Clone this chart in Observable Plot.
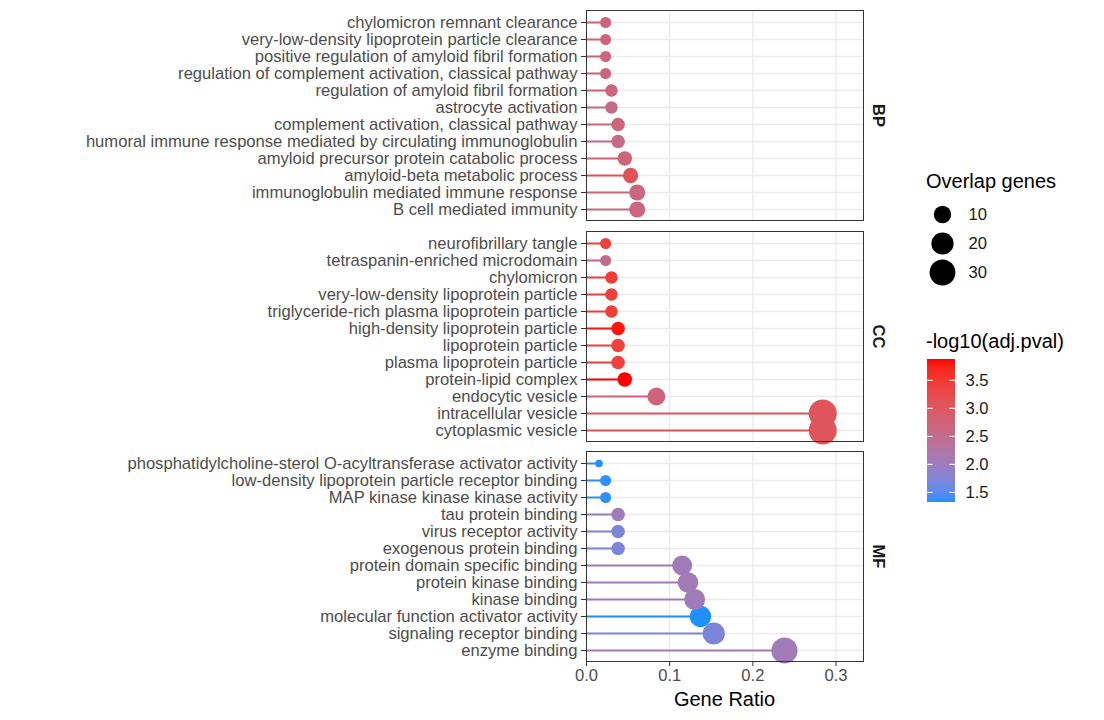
<!DOCTYPE html>
<html>
<head>
<meta charset="utf-8">
<script src="https://cdn.jsdelivr.net/npm/d3@7"></script>
<script src="https://cdn.jsdelivr.net/npm/@observablehq/plot@0.6"></script>
<style>
  body { margin: 0; background: #ffffff; }
  #chart { position: relative; width: 1104px; height: 720px; font-family: "Liberation Sans", Arial, sans-serif; overflow: hidden; }
  #chart > div { position: absolute; }
  .ttl { font-size: 20px; color: #000; white-space: nowrap; line-height: 1; }
</style>
</head>
<body>
<div id="chart"></div>
<script>
// ---------- data ----------
const bpTerms = [
  "chylomicron remnant clearance",
  "very-low-density lipoprotein particle clearance",
  "positive regulation of amyloid fibril formation",
  "regulation of complement activation, classical pathway",
  "regulation of amyloid fibril formation",
  "astrocyte activation",
  "complement activation, classical pathway",
  "humoral immune response mediated by circulating immunoglobulin",
  "amyloid precursor protein catabolic process",
  "amyloid-beta metabolic process",
  "immunoglobulin mediated immune response",
  "B cell mediated immunity"
];
const bpRatio = [0.023, 0.023, 0.023, 0.023, 0.030, 0.030, 0.038, 0.038, 0.046, 0.053, 0.061, 0.061];
const bpGenes = [3, 3, 3, 3, 4, 4, 5, 5, 6, 7, 8, 8];
const bpLogP  = [2.7, 2.7, 2.7, 2.7, 2.7, 2.55, 2.7, 2.55, 2.7, 3.1, 2.65, 2.65];

const ccTerms = [
  "neurofibrillary tangle",
  "tetraspanin-enriched microdomain",
  "chylomicron",
  "very-low-density lipoprotein particle",
  "triglyceride-rich plasma lipoprotein particle",
  "high-density lipoprotein particle",
  "lipoprotein particle",
  "plasma lipoprotein particle",
  "protein-lipid complex",
  "endocytic vesicle",
  "intracellular vesicle",
  "cytoplasmic vesicle"
];
const ccRatio = [0.023, 0.023, 0.030, 0.030, 0.030, 0.038, 0.038, 0.038, 0.046, 0.084, 0.284, 0.284];
const ccGenes = [3, 3, 4, 4, 4, 5, 5, 5, 6, 11, 37, 37];
const ccLogP  = [3.4, 2.5, 3.45, 3.4, 3.4, 3.8, 3.4, 3.4, 3.87, 2.7, 3.05, 3.05];

const mfTerms = [
  "phosphatidylcholine-sterol O-acyltransferase activator activity",
  "low-density lipoprotein particle receptor binding",
  "MAP kinase kinase kinase activity",
  "tau protein binding",
  "virus receptor activity",
  "exogenous protein binding",
  "protein domain specific binding",
  "protein kinase binding",
  "kinase binding",
  "molecular function activator activity",
  "signaling receptor binding",
  "enzyme binding"
];
const mfRatio = [0.015, 0.023, 0.023, 0.038, 0.038, 0.038, 0.115, 0.122, 0.130, 0.137, 0.153, 0.238];
const mfGenes = [2, 3, 3, 5, 5, 5, 15, 16, 17, 18, 20, 31];
const mfLogP  = [1.32, 1.35, 1.35, 2.05, 1.7, 1.7, 2.05, 2.05, 2.05, 1.32, 1.7, 2.05];

const facetLabels = ["BP", "CC", "MF"];
const xTicks = [0, 0.1, 0.2, 0.3];
const xDomain = [0, 0.333];
const sizeBreaks = [10, 20, 30];
const colorBreaks = [1.5, 2.0, 2.5, 3.0, 3.5];
const colorDomain = [1.32, 3.87];

// ---------- shared scales ----------
const FONT = '"Liberation Sans", Arial, sans-serif';
const AXFS = 16.6;
const allGenes = bpGenes.concat(ccGenes, mfGenes);
const gMin = d3.min(allGenes), gMax = d3.max(allGenes);
const colorOpts = { type: "linear", domain: colorDomain, range: ["#1E90FF", "#FF0000"], interpolate: "lab" };
const rOpts = { type: "linear", transform: v => Math.sqrt(Math.max(0, (v - gMin) / (gMax - gMin))), domain: [0, 1], range: [3.8, 14] };

const chart = document.getElementById("chart");
function place(node, left, top) {
  const wrap = document.createElement("div");
  wrap.style.left = left + "px";
  wrap.style.top = top + "px";
  wrap.appendChild(node);
  chart.appendChild(wrap);
  return wrap;
}

function panel(terms, ratio, genes, logp, label, top, showX) {
  const data = terms.map((t, i) => ({ term: t, ratio: ratio[i], genes: genes[i], logp: logp[i] }));
  const marginBottom = showX ? 59 : 0;
  const marks = [
    Plot.gridY(terms, { stroke: "#EBEBEB", strokeOpacity: 1, strokeWidth: 1.4 }),
    Plot.gridX(xTicks.slice(1), { stroke: "#EBEBEB", strokeOpacity: 1, strokeWidth: 1.4 }),
    Plot.ruleY(data, { y: "term", x1: 0, x2: "ratio", stroke: "logp", strokeWidth: 2 }),
    Plot.dot(data, { y: "term", x: "ratio", r: "genes", fill: "logp" }),
    Plot.frame({ stroke: "#333333", strokeWidth: 1 }),
    Plot.axisY({ tickSize: 5, tickPadding: 4, label: null, stroke: "#333333", fill: "#4D4D4D", fontSize: AXFS }),
    Plot.text([label], { text: d => d, frameAnchor: "right", textAnchor: "middle", lineAnchor: "middle", dx: 15, rotate: 90, fontWeight: "bold", fontSize: AXFS, fill: "#1A1A1A" })
  ];
  if (showX) marks.push(Plot.axisX({ ticks: xTicks, tickFormat: d3.format(".1f"), tickSize: 5, tickPadding: 3, label: null, stroke: "#333333", fill: "#4D4D4D", fontSize: AXFS }));
  const p = Plot.plot({
    width: 900,
    height: 10 + 210 + marginBottom,
    marginTop: 10, marginBottom, marginLeft: 586, marginRight: 37,
    style: { fontFamily: FONT, fontSize: AXFS + "px", color: "#4D4D4D", background: "transparent", overflow: "visible" },
    x: { domain: xDomain, axis: showX ? undefined : null },
    y: { type: "point", domain: terms, padding: 0.6 },
    color: colorOpts,
    r: rOpts,
    marks
  });
  place(p, 0, top);
}

panel(bpTerms, bpRatio, bpGenes, bpLogP, facetLabels[0], 0, false);
panel(ccTerms, ccRatio, ccGenes, ccLogP, facetLabels[1], 221, false);
panel(mfTerms, mfRatio, mfGenes, mfLogP, facetLabels[2], 441, true);

// x axis title
const xt = document.createElement("div");
xt.className = "ttl";
xt.textContent = "Gene Ratio";
xt.style.width = "277px";
xt.style.textAlign = "center";
place(xt, 586, 689);

// ---------- size legend ----------
const st = document.createElement("div");
st.className = "ttl";
st.textContent = "Overlap genes";
place(st, 926, 171);

const sizeLegend = Plot.plot({
  width: 100, height: 90,
  margin: 0,
  style: { fontFamily: FONT, fontSize: AXFS + "px", color: "#000", background: "transparent", overflow: "visible" },
  y: { type: "point", domain: sizeBreaks, range: [15.3, 74.7], padding: 0, axis: null },
  r: rOpts,
  marks: [
    Plot.dot(sizeBreaks, { y: d => d, r: d => d, frameAnchor: "left", dx: 16, fill: "#000" }),
    Plot.text(sizeBreaks, { y: d => d, text: d => String(d), frameAnchor: "left", dx: 42, textAnchor: "start", fill: "#1A1A1A", fontSize: AXFS })
  ]
});
place(sizeLegend, 926, 198);

// ---------- color legend ----------
const ct = document.createElement("div");
ct.className = "ttl";
ct.textContent = "-log10(adj.pval)";
place(ct, 926, 331);

const stepN = 80;
const span = colorDomain[1] - colorDomain[0];
const steps = d3.range(stepN).map(i => colorDomain[0] + span * i / stepN);
const colorLegend = Plot.plot({
  width: 90, height: 143,
  marginTop: 0, marginBottom: 0, marginLeft: 0, marginRight: 62,
  style: { fontFamily: FONT, fontSize: AXFS + "px", color: "#1A1A1A", background: "transparent", overflow: "visible" },
  x: { domain: [0, 1], axis: null },
  y: { domain: colorDomain, axis: null },
  color: colorOpts,
  marks: [
    Plot.rect(steps, { x1: 0, x2: 1, y1: d => d, y2: d => Math.min(colorDomain[1], d + span / stepN * 2.5), fill: d => d + span / stepN / 2, shapeRendering: "crispEdges" }),
    Plot.ruleY(colorBreaks, { y: d => d, x1: 0, x2: 0.2, stroke: "#ffffff", strokeWidth: 1 }),
    Plot.ruleY(colorBreaks, { y: d => d, x1: 0.8, x2: 1, stroke: "#ffffff", strokeWidth: 1 }),
    Plot.axisY(colorBreaks, { anchor: "right", tickSize: 0, tickPadding: 10, tickFormat: d3.format(".1f"), label: null, fill: "#1A1A1A", fontSize: AXFS })
  ]
});
place(colorLegend, 927, 359);
</script>
</body>
</html>
